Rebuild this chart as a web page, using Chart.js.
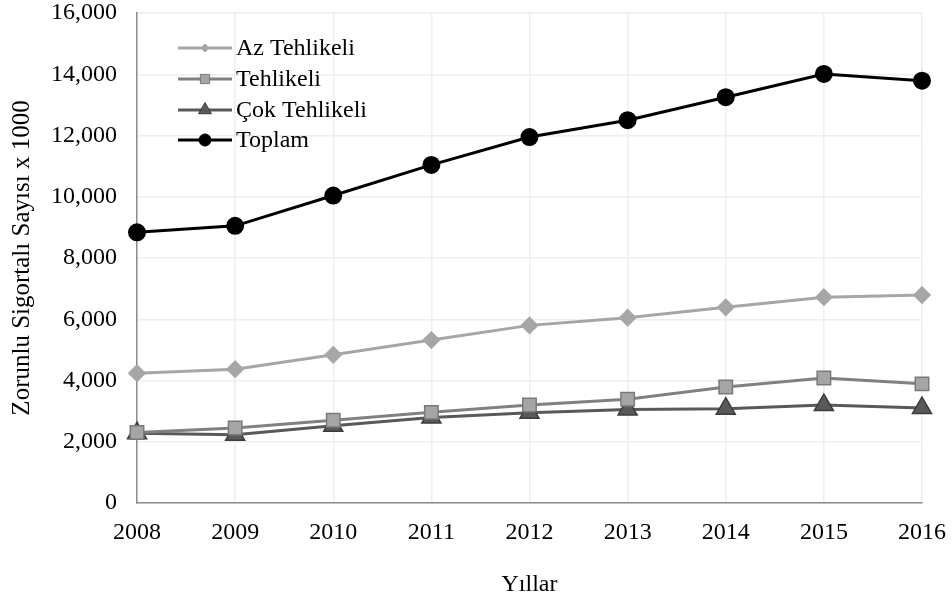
<!DOCTYPE html>
<html>
<head>
<meta charset="utf-8">
<script src="https://cdn.jsdelivr.net/npm/chart.js@4/dist/chart.umd.min.js"></script>
<style>
  html, body { margin: 0; padding: 0; background: #fff; }
  #wrap { width: 952px; height: 603px; }
</style>
</head>
<body>
<div id="wrap"><canvas id="dataChart" width="952" height="603"></canvas></div>
<script>
// Veriler (okunan degerler, x 1000)
const years = ['2008', '2009', '2010', '2011', '2012', '2013', '2014', '2015', '2016'];
const azTehlikeli = [4240, 4370, 4840, 5320, 5800, 6050, 6390, 6720, 6790];
const tehlikeli = [2300, 2450, 2700, 2960, 3200, 3390, 3790, 4080, 3890];
const cokTehlikeli = [2280, 2230, 2520, 2790, 2950, 3050, 3080, 3200, 3100];
const toplam = [8840, 9050, 10040, 11040, 11950, 12500, 13250, 14010, 13790];
const yTicks = [0, 2000, 4000, 6000, 8000, 10000, 12000, 14000, 16000];

const FONT = '"Liberation Serif", "Times New Roman", serif';

// Grafik icindeki legend
const innerLegend = {
    id: 'innerLegend',
    afterDraw(chart) {
        const c = chart.ctx;
        const rows = [48, 79, 110, 140];
        chart.data.datasets.forEach((ds, i) => {
            const y = rows[i];
            c.save();
            c.strokeStyle = ds.borderColor;
            c.lineWidth = ds.borderWidth;
            c.beginPath();
            c.moveTo(178, y);
            c.lineTo(232, y);
            c.stroke();
            c.fillStyle = ds.pointBackgroundColor;
            c.strokeStyle = ds.pointBorderColor;
            c.lineWidth = 1;
            Chart.helpers.drawPoint(c, {
                pointStyle: ds.pointStyle,
                radius: ds.legendRadius,
                borderWidth: 1,
                rotation: 0
            }, 205, y);
            c.fillStyle = '#000';
            c.font = '24px ' + FONT;
            c.textBaseline = 'middle';
            c.textAlign = 'left';
            c.fillText(ds.label, 236, y + 1);
            c.restore();
        });
    }
};

const ctx = document.getElementById('dataChart').getContext('2d');

const dataChart = new Chart(ctx, {
    type: 'line',
    data: {
        labels: years,
        datasets: [{
            label: 'Az Tehlikeli',
            data: azTehlikeli,
            borderColor: '#a6a6a6',
            borderWidth: 3,
            pointStyle: 'rectRot',
            pointRadius: 7,
            pointBackgroundColor: '#a6a6a6',
            pointBorderColor: '#a6a6a6',
            legendRadius: 4,
            fill: false,
            tension: 0
        }, {
            label: 'Tehlikeli',
            data: tehlikeli,
            borderColor: '#808080',
            borderWidth: 3,
            pointStyle: 'rect',
            pointRadius: 9.5,
            pointBorderWidth: 1.5,
            pointBackgroundColor: '#a5a5a5',
            pointBorderColor: '#7a7a7a',
            legendRadius: 6.5,
            fill: false,
            tension: 0
        }, {
            label: 'Çok Tehlikeli',
            data: cokTehlikeli,
            borderColor: '#595959',
            borderWidth: 3,
            pointStyle: 'triangle',
            pointRadius: 11,
            pointBorderWidth: 1.5,
            pointBackgroundColor: '#595959',
            pointBorderColor: '#3c3c3c',
            legendRadius: 7.5,
            fill: false,
            tension: 0
        }, {
            label: 'Toplam',
            data: toplam,
            borderColor: '#000000',
            borderWidth: 3,
            pointStyle: 'circle',
            pointRadius: 7.5,
            pointBackgroundColor: '#000000',
            pointBorderColor: '#000000',
            legendRadius: 6,
            fill: false,
            tension: 0
        }]
    },
    options: {
        responsive: false,
        animation: false,
        layout: { padding: { top: 13, right: 30, left: 0, bottom: 0 } },
        plugins: {
            legend: { display: false },
            tooltip: { enabled: false }
        },
        scales: {
            x: {
                offset: false,
                grid: { color: '#eeeeee', lineWidth: 1.5, drawTicks: false },
                border: { color: '#8c8c8c', width: 1.5 },
                ticks: {
                    color: '#000',
                    font: { family: FONT, size: 24 },
                    padding: 15,
                    maxRotation: 0
                },
                title: {
                    display: true,
                    text: 'Yıllar',
                    color: '#000',
                    font: { family: FONT, size: 24 },
                    padding: { bottom: 4, top: 0 }
                },
                afterFit(scale) {
                    scale.height = 100;
                    scale.paddingLeft = 0;
                    scale.paddingRight = 0;
                }
            },
            y: {
                min: 0,
                max: 16000,
                afterBuildTicks(scale) {
                    scale.ticks = yTicks.map(v => ({ value: v }));
                },
                grid: { color: '#eeeeee', lineWidth: 1.5, drawTicks: false },
                border: { color: '#8c8c8c', width: 1.5 },
                ticks: {
                    color: '#000',
                    font: { family: FONT, size: 24 },
                    padding: 20,
                    callback: v => v.toLocaleString('en-US')
                },
                title: {
                    display: true,
                    text: 'Zorunlu Sigortalı Sayısı x 1000',
                    color: '#000',
                    font: { family: FONT, size: 25 },
                    padding: { top: 7, bottom: 0 }
                },
                afterFit(scale) {
                    scale.width = 137;
                    scale.paddingTop = 0;
                    scale.paddingBottom = 0;
                }
            }
        }
    },
    plugins: [innerLegend]
});
</script>
</body>
</html>
